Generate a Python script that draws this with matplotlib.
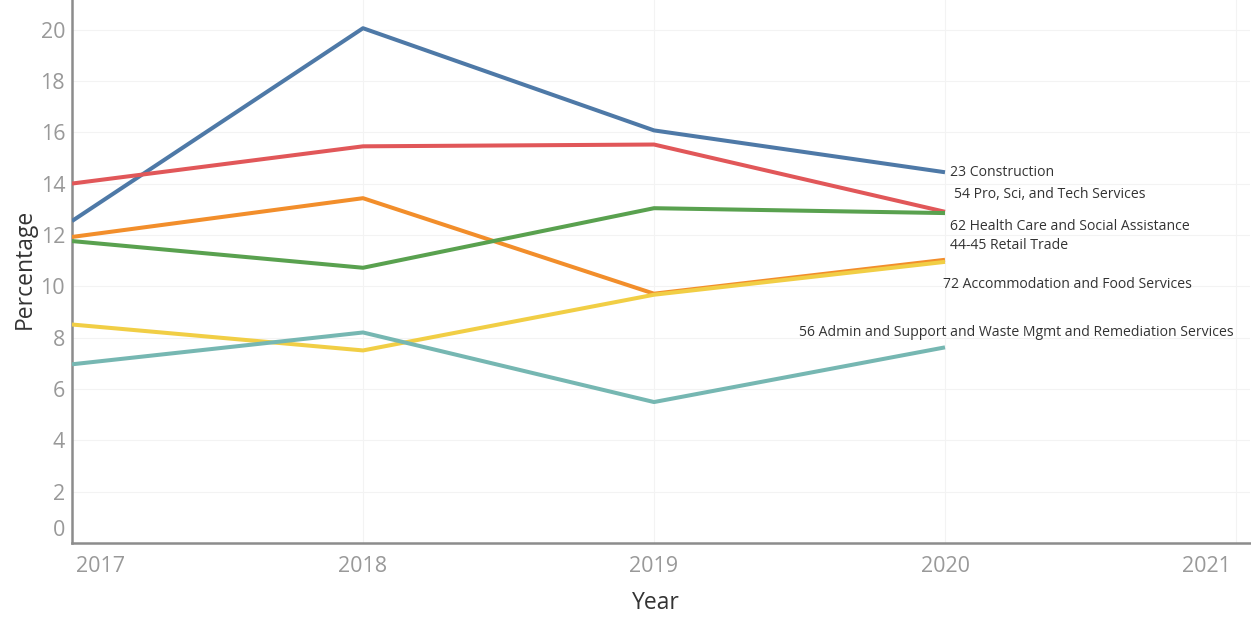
import matplotlib
matplotlib.use("Agg")
import matplotlib.pyplot as plt
from matplotlib.transforms import ScaledTranslation

years = [2017, 2018, 2019, 2020]
series_names = [
    "23 Construction",
    "54 Pro, Sci, and Tech Services",
    "44-45 Retail Trade",
    "62 Health Care and Social Assistance",
    "72 Accommodation and Food Services",
    "56 Admin and Support and Waste Mgmt and Remediation Services",
]
construction = [12.54, 20.05, 16.07, 14.44]
pro_sci_tech = [14.0, 15.45, 15.52, 12.9]
retail = [11.92, 13.43, 9.71, 11.03]
health = [11.76, 10.72, 13.04, 12.85]
accommodation = [8.51, 7.50, 9.67, 10.95]
admin = [6.96, 8.20, 5.49, 7.62]
series_values = [construction, pro_sci_tech, retail, health, accommodation, admin]
colors = ["#4e79a7", "#e15759", "#f28e2b", "#59a14f", "#f1ce45", "#76b7b2"]
y_ticks = [0, 2, 4, 6, 8, 10, 12, 14, 16, 18, 20]
x_ticks = [2017, 2018, 2019, 2020, 2021]

plt.rcParams['font.family'] = ['Open Sans', 'DejaVu Sans']

fig = plt.figure(figsize=(12.51, 6.17), dpi=100)
ax = fig.add_axes([72/1251, 1 - 543/617, (1250-72)/1251, 543/617])

for vals, c in zip(series_values, colors):
    ax.plot(years, vals, color=c, linewidth=2.9, solid_capstyle='butt', zorder=3)

ax.set_xlim(2017, 2017 + (1250-72)/291.0)
ax.set_ylim(0, 20 + 29.5/25.675)
ax.set_xticks(x_ticks)
ax.set_yticks(y_ticks)
ax.grid(True, color="#f3f3f3", linewidth=0.8, zorder=0)
for s in ["top", "right"]:
    ax.spines[s].set_visible(False)
for s in ["left", "bottom"]:
    ax.spines[s].set_color("#8c8c8c")
    ax.spines[s].set_linewidth(1.8)
ax.tick_params(axis='both', length=0, labelsize=15.5, labelcolor="#999999")
ax.tick_params(axis='y', pad=5)
ax.tick_params(axis='x', pad=9)

fig.canvas.draw()
# Tableau-style: keep first/last x labels inside the axis, 0 label lifted
xl = ax.get_xticklabels()
xl[0].set_horizontalalignment('left')
xl[0].set_transform(xl[0].get_transform() + ScaledTranslation(4/100, 0, fig.dpi_scale_trans))
xl[-1].set_horizontalalignment('right')
xl[-1].set_transform(xl[-1].get_transform() + ScaledTranslation(-5/100, 0, fig.dpi_scale_trans))
yl = ax.get_yticklabels()
yl[0].set_transform(yl[0].get_transform() + ScaledTranslation(0, 15/100, fig.dpi_scale_trans))

ax.set_ylabel("Percentage", fontsize=16.5, color="#333333")
ax.yaxis.set_label_coords((25 - 72)/1178, (543 - 269)/543)
ax.yaxis.label.set_verticalalignment('center')
ax.set_xlabel("Year", fontsize=16.5, color="#333333")
ax.xaxis.set_label_coords((655.5 - 72)/1178, (543 - 603)/543)
ax.xaxis.label.set_verticalalignment('center')

# end labels (pixel placements)
def px(x, y):
    return x/1251, 1 - y/617

label_pos = [(950, 172, 'left'), (954, 194, 'left'), (950, 245, 'left'),
             (950, 227, 'left'), (943, 285, 'left'), (1234, 332, 'right')]
for name, (x, y, ha) in zip(series_names, label_pos):
    fx, fy = px(x, y)
    fig.text(fx, fy, name, fontsize=10.1, color="#333333", ha=ha, va='center',
             family=['Open Sans', 'DejaVu Sans'])

fig.savefig("out.png", dpi=100)
